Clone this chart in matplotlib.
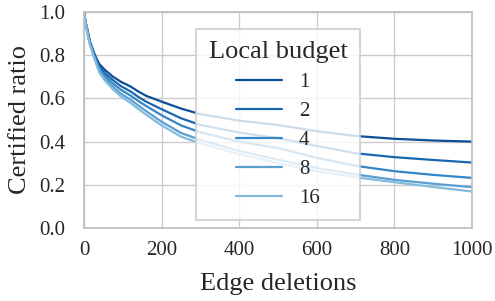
import matplotlib
matplotlib.use("Agg")
import matplotlib.pyplot as plt

edge_deletions = [0, 4, 8, 12, 16, 24, 32, 40, 55, 75, 95, 120, 140, 160, 200,
                  250, 300, 400, 500, 600, 700, 800, 900, 1000]
budgets = ["1", "2", "4", "8", "16"]
ratio_b1 = [1.0, 0.955, 0.925, 0.89, 0.86, 0.82, 0.785, 0.758, 0.73, 0.70, 0.677,
            0.655, 0.632, 0.612, 0.585, 0.553, 0.527, 0.497, 0.477, 0.448, 0.426,
            0.413, 0.405, 0.40]
ratio_b2 = [1.0, 0.953, 0.92, 0.885, 0.856, 0.815, 0.777, 0.747, 0.715, 0.684, 0.657,
            0.632, 0.607, 0.585, 0.55, 0.508, 0.477, 0.442, 0.416, 0.38, 0.346,
            0.328, 0.315, 0.303]
ratio_b4 = [1.0, 0.952, 0.917, 0.88, 0.852, 0.81, 0.77, 0.737, 0.702, 0.668, 0.64,
            0.613, 0.588, 0.565, 0.522, 0.475, 0.443, 0.40, 0.37, 0.325, 0.288,
            0.263, 0.246, 0.232]
ratio_b8 = [1.0, 0.95, 0.913, 0.876, 0.848, 0.805, 0.763, 0.727, 0.69, 0.653, 0.622,
            0.594, 0.567, 0.541, 0.492, 0.44, 0.408, 0.357, 0.316, 0.278, 0.248,
            0.223, 0.205, 0.189]
ratio_b16 = [1.0, 0.948, 0.91, 0.872, 0.845, 0.80, 0.757, 0.718, 0.68, 0.641, 0.609,
             0.579, 0.551, 0.525, 0.475, 0.423, 0.392, 0.342, 0.30, 0.263, 0.235,
             0.212, 0.19, 0.169]
series = [ratio_b1, ratio_b2, ratio_b4, ratio_b8, ratio_b16]
colors = ["#0b4f99", "#1a67b0", "#3685c4", "#5a9fd2", "#82bbdc"]

plt.rcParams["font.family"] = ["Liberation Serif", "DejaVu Serif"]
text_color = "#262626"
grid_color = "#cccccc"

fig = plt.figure(figsize=(4.95, 3.01), dpi=100)
ax = fig.add_axes([84 / 495, 1 - 228 / 301, (472 - 84) / 495, (228 - 12) / 301])

for vals, lab, c in zip(series, budgets, colors):
    ax.plot(edge_deletions, vals, color=c, lw=1.6, label=lab,
            solid_joinstyle="round", solid_capstyle="round")

ax.set_xlim(0, 1000)
ax.set_ylim(0, 1.0)
ax.set_xticks([0, 200, 400, 600, 800, 1000])
ax.set_yticks([0.0, 0.2, 0.4, 0.6, 0.8, 1.0])
ax.set_yticklabels(["0.0", "0.2", "0.4", "0.6", "0.8", "1.0"])
ax.grid(True, color=grid_color, lw=1.0)
ax.set_axisbelow(True)
for s in ax.spines.values():
    s.set_color("#bfbfbf")
    s.set_linewidth(1.25)
ax.tick_params(axis="both", length=0, labelsize=15, colors=text_color)
ax.tick_params(axis="y", pad=13.5)
ax.tick_params(axis="x", pad=9.5)
ax.set_xlabel("Edge deletions", fontsize=19, color=text_color, labelpad=9)
ax.set_ylabel("Certified ratio", fontsize=19, color=text_color, labelpad=6)

leg = ax.legend(title="Local budget", loc="upper center", fontsize=15,
                title_fontsize=19, frameon=True, framealpha=0.8,
                edgecolor="#cccccc", fancybox=False, borderaxespad=0.8,
                borderpad=0.6, labelspacing=0.45, handlelength=2.2)
leg.get_frame().set_linewidth(1.5)
for t in leg.get_texts():
    t.set_color(text_color)
leg.get_title().set_color(text_color)

fig.savefig("out.png", dpi=100)
